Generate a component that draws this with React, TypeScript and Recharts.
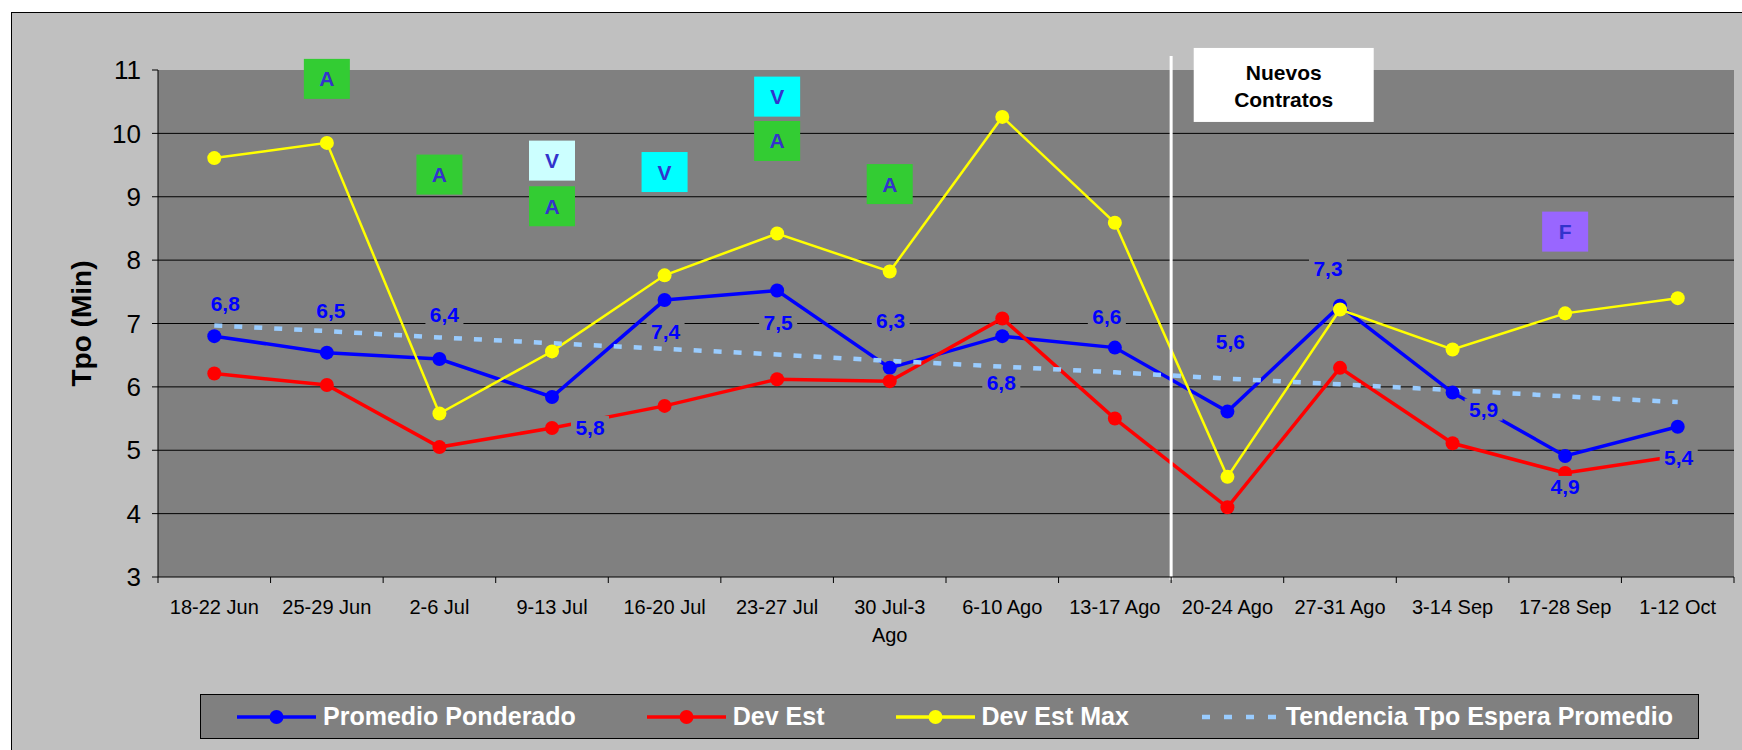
import React from 'react';
import {
  LineChart,
  Line,
  XAxis,
  YAxis,
  CartesianGrid,
  ReferenceLine,
  ReferenceDot,
  LabelList,
} from 'recharts';

const FONT = '"Liberation Sans", Arial, sans-serif';

const categories = [
  '18-22 Jun', '25-29 Jun', '2-6 Jul', '9-13 Jul', '16-20 Jul', '23-27 Jul', '30 Jul-3 Ago',
  '6-10 Ago', '13-17 Ago', '20-24 Ago', '27-31 Ago', '3-14 Sep', '17-28 Sep', '1-12 Oct',
];
const promedioPonderado = [6.8, 6.54, 6.44, 5.84, 7.37, 7.52, 6.3, 6.8, 6.62, 5.61, 7.28, 5.91, 4.91, 5.37];
const devEst = [6.21, 6.03, 5.05, 5.35, 5.7, 6.12, 6.09, 7.08, 5.5, 4.1, 6.3, 5.11, 4.64, 4.91];
const devEstMax = [9.61, 9.85, 5.58, 6.56, 7.76, 8.42, 7.82, 10.26, 8.59, 4.58, 7.22, 6.59, 7.16, 7.4];
const tendencia = [6.97, 6.88, 6.78, 6.69, 6.6, 6.51, 6.41, 6.32, 6.23, 6.13, 6.04, 5.95, 5.85, 5.76];
const yTicks = [3, 4, 5, 6, 7, 8, 9, 10, 11];

// letter markers above the weeks
const markCats = [1, 2, 3, 3, 4, 5, 5, 6, 12];
const markValues = [10.86, 9.35, 9.57, 8.85, 9.39, 10.58, 9.88, 9.2, 8.45];
const markLetters = ['A', 'A', 'V', 'A', 'V', 'V', 'A', 'A', 'F'];
const markColors = ['#33CC33', '#33CC33', '#CCFFFF', '#33CC33', '#00FFFF', '#00FFFF', '#33CC33', '#33CC33', '#9966FF'];

// where each value label sits relative to its point
const labelOffsets = [
  [11, -33], [4, -42], [5, -44], [38, 30], [1, 31], [1, 32], [1, -47],
  [-1, 46], [-8, -31], [3, -70], [-12, -37], [31, 17], [0, 31], [1, 31],
];

const data = categories.map((c, i) => ({
  cat: c,
  prom: promedioPonderado[i],
  dev: devEst[i],
  max: devEstMax[i],
  tend: tendencia[i],
}));

const W = 1738;
const H = 743;
const Y_W = 146;
const MARGIN = { top: 57, right: 16, left: 0, bottom: 119 };
const HALF_BAND = (W - MARGIN.right - Y_W) / categories.length / 2;

function XTick(props: any) {
  const { x, y, payload, index } = props;
  const text = String(payload.value);
  const cut = text.lastIndexOf(' ');
  const lines = text.length > 10 ? [text.slice(0, cut), text.slice(cut + 1)] : [text];
  const last = index === categories.length - 1;
  return (
    <g>
      <line x1={x - HALF_BAND} x2={x - HALF_BAND} y1={y} y2={y + 6} stroke="#000" />
      {last && <line x1={x + HALF_BAND} x2={x + HALF_BAND} y1={y} y2={y + 6} stroke="#000" />}
      <text x={x} y={y + 37} textAnchor="middle" fontSize={20} fontFamily={FONT} fill="#000">
        {lines.map((l, i) => (
          <tspan key={i} x={x} dy={i === 0 ? 0 : 28}>
            {l}
          </tspan>
        ))}
      </text>
    </g>
  );
}

function ValueLabel(props: any) {
  const { x, y, value, index } = props;
  const [dx, dy] = labelOffsets[index] || [0, -30];
  const txt = Number(value).toFixed(1).replace('.', ',');
  const cx = x + dx;
  const cy = y + dy;
  return (
    <g>
      <rect x={cx - 19} y={cy - 11} width={38} height={22} fill="#808080" />
      <text
        x={cx}
        y={cy}
        textAnchor="middle"
        dominantBaseline="central"
        fontSize={21}
        fontWeight="bold"
        fontFamily={FONT}
        fill="#0000FF"
      >
        {txt}
      </text>
    </g>
  );
}

function LegendItem({ color, dashed, label }: { color: string; dashed?: boolean; label: string }) {
  return (
    <div style={{ display: 'flex', alignItems: 'center' }}>
      <svg width={79} height={20}>
        {dashed ? (
          <line x1={2} x2={79} y1={10} y2={10} stroke={color} strokeWidth={4.5} strokeDasharray="8 14" />
        ) : (
          <>
            <line x1={0} x2={79} y1={10} y2={10} stroke={color} strokeWidth={3.5} />
            <circle cx={39.5} cy={10} r={7} fill={color} />
          </>
        )}
      </svg>
      <span
        style={{
          marginLeft: 7,
          color: '#fff',
          fontWeight: 'bold',
          fontSize: 25,
          fontFamily: FONT,
          lineHeight: 1,
          whiteSpace: 'nowrap',
        }}
      >
        {label}
      </span>
    </div>
  );
}

export default function App() {
  return (
    <div
      style={{
        position: 'fixed',
        left: 11,
        top: 12,
        width: W,
        height: H,
        background: '#C0C0C0',
        border: '1px solid #000',
      }}
    >
      <LineChart width={W} height={H} data={data} margin={MARGIN}>
        <CartesianGrid
          vertical={false}
          stroke="#000"
          fill="#808080"
          fillOpacity={1}
          horizontalValues={[4, 5, 6, 7, 8, 9, 10]}
        />
        <XAxis
          dataKey="cat"
          interval={0}
          height={60}
          padding={{ left: HALF_BAND, right: HALF_BAND }}
          tickSize={0}
          tickMargin={0}
          tickLine={false}
          axisLine={{ stroke: '#000' }}
          tick={<XTick />}
        />
        <YAxis
          domain={[3, 11]}
          ticks={yTicks}
          width={Y_W}
          allowDataOverflow
          tickSize={6}
          tickMargin={11}
          axisLine={{ stroke: '#000' }}
          tickLine={{ stroke: '#000' }}
          tick={{ fontSize: 26, fill: '#000', fontFamily: FONT }}
          label={{
            content: (p: any) => {
              const vb = p.viewBox || { x: 0, y: 57, height: 508 };
              const cx = vb.x + 69;
              const cy = vb.y + vb.height / 2;
              return (
                <text
                  x={cx}
                  y={cy}
                  transform={`rotate(-90 ${cx} ${cy})`}
                  textAnchor="middle"
                  dominantBaseline="central"
                  fontSize={28}
                  fontWeight="bold"
                  fontFamily={FONT}
                  fill="#000"
                >
                  Tpo (Min)
                </text>
              );
            },
          }}
        />
        <Line
          dataKey="prom"
          stroke="#0000FF"
          strokeWidth={3.5}
          dot={{ r: 7, fill: '#0000FF', stroke: '#0000FF', strokeWidth: 0 }}
          activeDot={false}
          isAnimationActive={false}
        />
        <Line
          dataKey="dev"
          stroke="#FF0000"
          strokeWidth={3.5}
          dot={{ r: 7, fill: '#FF0000', stroke: '#FF0000', strokeWidth: 0 }}
          activeDot={false}
          isAnimationActive={false}
        />
        <Line
          dataKey="max"
          stroke="#FFFF00"
          strokeWidth={2.5}
          dot={{ r: 7, fill: '#FFFF00', stroke: '#FFFF00', strokeWidth: 0 }}
          activeDot={false}
          isAnimationActive={false}
        />
        <Line
          dataKey="tend"
          stroke="#99CCFF"
          strokeWidth={4.5}
          strokeDasharray="8 12"
          dot={false}
          activeDot={false}
          isAnimationActive={false}
        />
        <ReferenceLine
          x={categories[8]}
          ifOverflow="visible"
          shape={(p: any) => {
            const x = (p.x1 ?? 0) + HALF_BAND;
            const top = Math.min(p.y1, p.y2);
            const bottom = Math.max(p.y1, p.y2);
            return <line x1={x} x2={x} y1={top - 14} y2={bottom + 3} stroke="#fff" strokeWidth={3} />;
          }}
        />
        <ReferenceDot
          x={categories[10]}
          y={10.78}
          ifOverflow="visible"
          shape={(p: any) => {
            const cx = p.cx - HALF_BAND;
            return (
              <g>
                <rect x={cx - 90} y={p.cy - 36} width={180} height={74} fill="#fff" />
                <text x={cx} y={p.cy - 11} textAnchor="middle" dominantBaseline="central" fontSize={21} fontWeight="bold" fontFamily={FONT} fill="#000">
                  Nuevos
                </text>
                <text x={cx} y={p.cy + 16} textAnchor="middle" dominantBaseline="central" fontSize={21} fontWeight="bold" fontFamily={FONT} fill="#000">
                  Contratos
                </text>
              </g>
            );
          }}
        />
        {markCats.map((c, i) => (
          <ReferenceDot
            key={i}
            x={categories[c]}
            y={markValues[i]}
            ifOverflow="visible"
            shape={(p: any) => (
              <g>
                <rect x={p.cx - 23} y={p.cy - 20} width={46} height={40} fill={markColors[i]} />
                <text
                  x={p.cx}
                  y={p.cy}
                  textAnchor="middle"
                  dominantBaseline="central"
                  fontSize={21}
                  fontWeight="bold"
                  fontFamily={FONT}
                  fill="#3333CC"
                >
                  {markLetters[i]}
                </text>
              </g>
            )}
          />
        ))}
        <Line
          dataKey="prom"
          stroke="none"
          dot={false}
          activeDot={false}
          legendType="none"
          isAnimationActive={false}
        >
          <LabelList dataKey="prom" content={<ValueLabel />} />
        </Line>
      </LineChart>
      <div
        style={{
          position: 'absolute',
          left: 188,
          top: 681,
          width: 1499,
          height: 45,
          boxSizing: 'border-box',
          background: '#808080',
          border: '1px solid #000',
          display: 'flex',
          alignItems: 'center',
          paddingLeft: 36,
          gap: 71,
        }}
      >
        <LegendItem color="#0000FF" label="Promedio Ponderado" />
        <LegendItem color="#FF0000" label="Dev Est" />
        <LegendItem color="#FFFF00" label="Dev Est Max" />
        <LegendItem color="#99CCFF" dashed label="Tendencia Tpo Espera Promedio" />
      </div>
    </div>
  );
}
